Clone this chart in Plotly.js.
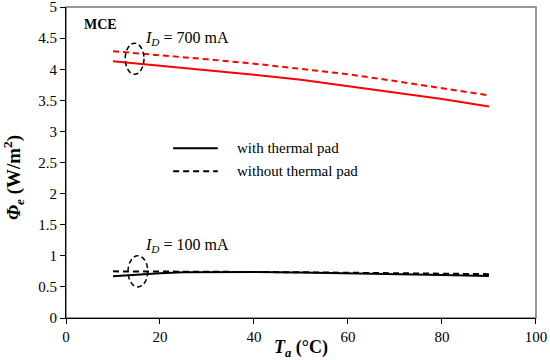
<!DOCTYPE html>
<html><head><meta charset="utf-8">
<script src="https://cdn.plot.ly/plotly-3.0.1.min.js"></script>
<style>html,body{margin:0;padding:0;background:#fff}#chart{width:550px;height:360px}</style>
</head><body><div id="chart"></div>
<script>
const temps = [10, 20, 30, 40, 50, 60, 70, 80, 90];
const red700With = [4.13, 4.06, 3.99, 3.91, 3.83, 3.73, 3.63, 3.52, 3.40];
const red700Without = [4.29, 4.23, 4.16, 4.09, 4.01, 3.92, 3.81, 3.70, 3.58];
const tempsLow = [10, 15, 20, 25, 30, 40, 50, 60, 70, 80, 90];
const black100With = [0.67, 0.70, 0.72, 0.735, 0.74, 0.74, 0.73, 0.72, 0.70, 0.69, 0.675];
const black100Without = [0.75, 0.75, 0.745, 0.742, 0.74, 0.74, 0.735, 0.73, 0.72, 0.715, 0.705];
const legendLabels = ["with thermal pad", "without thermal pad"];
const xTicks = [0, 20, 40, 60, 80, 100];
const yTicks = [0, 0.5, 1, 1.5, 2, 2.5, 3, 3.5, 4, 4.5, 5];

const F = "Liberation Serif";
const traces = [
  {x: temps, y: red700With, mode: 'lines', line: {color: '#ff0000', width: 2}},
  {x: temps, y: red700Without, mode: 'lines', line: {color: '#ff0000', width: 2, dash: '6px,4px'}},
  {x: tempsLow, y: black100With, mode: 'lines', line: {color: '#000', width: 2}},
  {x: tempsLow, y: black100Without, mode: 'lines', line: {color: '#000', width: 2, dash: '6px,4px'}}
];
const layout = {
  width: 550, height: 360,
  margin: {l: 66, r: 14, t: 7, b: 42},
  showlegend: false,
  paper_bgcolor: '#fff', plot_bgcolor: '#fff',
  font: {family: F, size: 15, color: '#000'},
  xaxis: {range: [0, 100.01], tickvals: xTicks, ticktext: xTicks.map(String), ticks: 'outside', ticklen: 5, tickcolor: '#000',
    showline: true, linecolor: '#000', linewidth: 1, showgrid: false, zeroline: false, ticklabeloverflow: 'allow',
    tickfont: {family: F, size: 15},
    title: {text: '<b><i>T</i><sub><i>a</i></sub> (°C)</b>', font: {family: F, size: 18}, standoff: 4}},
  yaxis: {range: [0, 5.001], tickvals: yTicks, ticktext: yTicks.map(String), ticks: 'outside', ticklen: 5, tickcolor: '#000',
    showline: true, linecolor: '#000', linewidth: 1, showgrid: false, zeroline: false, ticklabeloverflow: 'allow',
    tickfont: {family: F, size: 15}},
  shapes: [
    {type: 'rect', xref: 'paper', yref: 'paper', x0: 0, x1: 1, y0: 0, y1: 1, line: {color: '#777', width: 1.5}, layer: 'below'},
    {type: 'circle', xref: 'x', yref: 'y', x0: 12.6, x1: 16.6, y0: 3.92, y1: 4.42, line: {color: '#000', width: 1.5, dash: '5px,3px'}},
    {type: 'circle', xref: 'x', yref: 'y', x0: 13.2, x1: 17.4, y0: 0.5, y1: 1.0, line: {color: '#000', width: 1.5, dash: '5px,3px'}},
    {type: 'line', xref: 'x', yref: 'y', x0: 22.8, x1: 32.3, y0: 2.73, y1: 2.73, line: {color: '#000', width: 2}},
    {type: 'line', xref: 'x', yref: 'y', x0: 22.8, x1: 32.3, y0: 2.36, y1: 2.36, line: {color: '#000', width: 2, dash: '6px,4px'}}
  ],
  annotations: [
    {x: -0.113, y: 0.453, xref: 'paper', yref: 'paper', xanchor: 'center', yanchor: 'middle', textangle: -90, showarrow: false,
      text: '<b><i>Φ</i><sub><i>e</i></sub> (W/m<sup>2</sup>)</b>', font: {family: F, size: 19}},
    {x: 3.4, y: 4.72, xref: 'x', yref: 'y', xanchor: 'left', yanchor: 'middle', showarrow: false, text: '<b>MCE</b>', font: {family: F, size: 14}},
    {x: 16.3, y: 4.5, xref: 'x', yref: 'y', xanchor: 'left', yanchor: 'middle', showarrow: false, text: '<i>I</i><sub><i>D</i></sub> = 700 mA', font: {family: F, size: 16}},
    {x: 16.3, y: 1.17, xref: 'x', yref: 'y', xanchor: 'left', yanchor: 'middle', showarrow: false, text: '<i>I</i><sub><i>D</i></sub> = 100 mA', font: {family: F, size: 16}},
    {x: 36.0, y: 2.73, xref: 'x', yref: 'y', xanchor: 'left', yanchor: 'middle', showarrow: false, text: legendLabels[0], font: {family: F, size: 15}},
    {x: 36.0, y: 2.36, xref: 'x', yref: 'y', xanchor: 'left', yanchor: 'middle', showarrow: false, text: legendLabels[1], font: {family: F, size: 15}}
  ]
};
Plotly.newPlot('chart', traces, layout, {displayModeBar: false, staticPlot: true});
</script></body></html>
